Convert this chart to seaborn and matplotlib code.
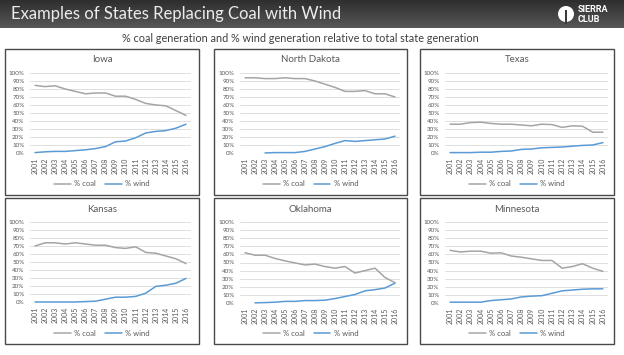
import numpy as np
import pandas as pd
import matplotlib
matplotlib.use("Agg")
import matplotlib.pyplot as plt
from matplotlib.patches import Rectangle, Ellipse
import seaborn as sns

sns.set_theme(style="white")
plt.rcParams['font.family'] = ['Lato', 'DejaVu Sans']

years = list(range(2001, 2017))
states = ["Iowa", "North Dakota", "Texas", "Kansas", "Oklahoma", "Minnesota"]

coal_iowa = [84.5, 83, 84, 80, 77, 74, 75, 75, 71, 71, 67, 62, 60, 59, 53, 47]
wind_iowa = [0.5, 1.5, 2, 2, 3, 4, 5.5, 8, 14, 15, 19, 25, 27, 28, 31, 36]
coal_nd = [94, 94, 93, 93, 94, 93, 93, 90, 86, 82, 77, 77, 78, 74, 74, 70]
wind_nd = [np.nan, np.nan, 0.1, 0.5, 0.5, 0.5, 2, 5, 8, 12, 15.5, 14.5, 15.5, 16.5, 17.5, 21]
coal_tx = [36, 36, 38, 38.5, 37, 36, 36, 35, 34, 36, 35.5, 32, 34, 33.5, 26, 26]
wind_tx = [0.5, 0.5, 0.5, 1, 1, 2, 2.5, 4.5, 5, 6.5, 7, 7.5, 8.5, 9.5, 10, 13]
coal_ks = [70, 74, 74, 72.5, 74, 72.5, 71, 71, 68, 67, 69, 62, 61, 57.5, 54, 48]
wind_ks = [0, 0, 0, 0, 0, 0.5, 1, 3.5, 6, 6, 7, 11, 19.5, 21, 23.5, 29.5]
coal_ok = [62, 59, 59, 55, 52, 49.5, 47, 48, 45, 43, 45, 37, 40, 43, 31.5, 25]
wind_ok = [np.nan, 0.2, 0.5, 1, 2, 2, 3, 3, 3.5, 5.5, 8, 10.5, 15, 16.5, 18.5, 24.5]
coal_mn = [65, 63, 64, 64, 61.5, 62, 58, 56.5, 54.5, 52.5, 52.5, 43, 45, 48.5, 43, 39]
wind_mn = [1, 1, 1, 1, 3, 4, 5, 7.5, 8.5, 9, 12, 15, 16, 17, 17.5, 17.5]

coal_all = [coal_iowa, coal_nd, coal_tx, coal_ks, coal_ok, coal_mn]
wind_all = [wind_iowa, wind_nd, wind_tx, wind_ks, wind_ok, wind_mn]

W, H = 624, 355
fig = plt.figure(figsize=(W / 100, H / 100), dpi=100)
fig.patch.set_facecolor("white")


def fx(x):
    return x / W


def fy(y):
    return 1 - y / H


# header bar with gradient
hb = fig.add_axes([0, fy(28), 1, 28 / H])
grad = np.linspace(0, 1, 50).reshape(-1, 1)
cmap = matplotlib.colors.LinearSegmentedColormap.from_list("g", ["#2e2e2e", "#575757"])
hb.imshow(grad, aspect="auto", cmap=cmap, extent=[0, 1, 0, 1], origin="upper")
hb.set_axis_off()
fig.text(fx(11), fy(14.5), "Examples of States Replacing Coal with Wind", color="#ececec",
         fontsize=12, va="center", ha="left")
# logo
fig.patches.append(Ellipse((fx(566), fy(14)), 16 / W, 16 / H, transform=fig.transFigure,
                           facecolor="white", edgecolor="none"))
fig.patches.append(Rectangle((fx(565), fy(24)), 2 / W, 14 / H, transform=fig.transFigure,
                             facecolor="#3a3a3a", edgecolor="none"))
fig.text(fx(578), fy(9.5), "SIERRA", color="white", fontsize=6.5, fontweight="bold",
         va="center", ha="left", family=["Roboto", "DejaVu Sans"])
fig.text(fx(578), fy(19.5), "CLUB", color="white", fontsize=6.5, fontweight="bold",
         va="center", ha="left", family=["Roboto", "DejaVu Sans"])

fig.text(fx(300), fy(39), "% coal generation and % wind generation relative to total state generation",
         color="#404040", fontsize=7.8, ha="center", va="center")

panels = [(5, 49, 199, 195), (214, 49, 407, 195), (420, 49, 614, 195),
          (5, 198, 199, 344), (214, 198, 407, 344), (420, 198, 614, 344)]
plots = [(30, 191, 73, 153), (240, 400, 73, 153), (445, 608, 73, 153),
         (30, 191, 222, 302), (240, 400, 222, 303), (445, 608, 222, 303)]

palette = {"% coal": "#a5a5a5", "% wind": "#5b9bd5"}

for i, st in enumerate(states):
    px0, py0, px1, py1 = panels[i]
    fig.patches.append(Rectangle((fx(px0), fy(py1)), (px1 - px0) / W, (py1 - py0) / H,
                                 transform=fig.transFigure, facecolor="none",
                                 edgecolor="#4a4a4a", linewidth=1.0))
    cx = (px0 + px1) / 2
    fig.text(fx(cx), fy(py0 + 11), st, color="#595959", fontsize=7, ha="center", va="center")

    ax0, ax1, ay0, ay1 = plots[i]
    ax = fig.add_axes([fx(ax0), fy(ay1), (ax1 - ax0) / W, (ay1 - ay0) / H])
    df = pd.DataFrame({
        "year": years * 2,
        "value": list(coal_all[i]) + list(wind_all[i]),
        "series": ["% coal"] * len(years) + ["% wind"] * len(years),
    })
    sns.lineplot(data=df, x="year", y="value", hue="series", palette=palette, ax=ax,
                 linewidth=1.1, legend=True)
    for ln in ax.lines:
        ln.set_clip_on(False)
    ax.set_xlim(2000.5, 2016.5)
    ax.set_ylim(0, 100)
    ax.set_yticks(range(0, 101, 10))
    ax.set_yticklabels([f"{v}%" for v in range(0, 101, 10)])
    ax.set_xticks(years)
    ax.set_xticklabels([str(y) for y in years], rotation=90)
    ax.tick_params(axis="y", length=0, pad=4, labelsize=4.5, labelcolor="#595959")
    ax.tick_params(axis="x", length=0, pad=3.5, labelsize=5, labelcolor="#595959")
    ax.set_xlabel("")
    ax.set_ylabel("")
    ax.grid(axis="y", color="#d9d9d9", linewidth=0.6)
    ax.grid(axis="x", visible=False)
    ax.set_axisbelow(True)
    for sp in ax.spines.values():
        sp.set_visible(False)
    ax.set_facecolor("none")
    leg = ax.legend(loc="center", bbox_to_anchor=(fx(cx), fy(py0 + 135)),
                    bbox_transform=fig.transFigure, ncol=2, frameon=False,
                    fontsize=5.5, handlelength=2.2, columnspacing=1.2, handletextpad=0.4)
    for t in leg.get_texts():
        t.set_color("#595959")

fig.savefig("out.png", dpi=100)
